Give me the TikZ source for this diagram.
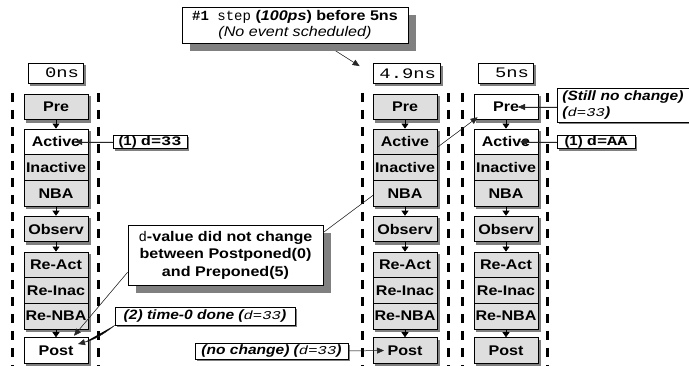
\documentclass[tikz,border=0pt]{standalone}
\usepackage{fontspec}
\setmainfont{Liberation Sans}
\newfontfamily\stagesans[FakeStretch=1.15]{Liberation Sans}
\newfontfamily\widemono[FakeStretch=1.3]{Liberation Mono}
\newfontfamily\plainmono{Liberation Mono}
\usetikzlibrary{arrows.meta,backgrounds}

\definecolor{stagefill}{RGB}{222,222,222}
\definecolor{shadowgrey}{RGB}{128,128,128}

\newcommand\tmStage{\stagesans\bfseries\fontsize{14}{16}\selectfont}
\newcommand\tmHdr{\widemono\fontsize{14.5}{16}\selectfont}
\newcommand\tmTag{\stagesans\bfseries\fontsize{13}{15}\selectfont}
\newcommand\tmNote{\stagesans\bfseries\itshape\fontsize{13.5}{16}\selectfont}
\newcommand\tmCallout{\stagesans\bfseries\fontsize{14}{17.5}\selectfont}
\newcommand\tmVal[1]{{\widemono\mdseries\fontsize{12}{14}\selectfont #1}}

% one column of scheduler regions: suffix, x, Pre style, Active style, Post style
\newcommand\stagecolumn[5]{%
  \node[#3] (pre#1) at (#2,107) {Pre};
  \node[#4] (act#1) at (#2,141.85) {Active};
  \node[greystage] (ina#1) at (#2,167.55) {Inactive};
  \node[greystage] (nba#1) at (#2,193.25) {NBA};
  \node[greystage] (obs#1) at (#2,229) {Observ};
  \node[greystage] (rac#1) at (#2,264.85) {Re-Act};
  \node[greystage] (rin#1) at (#2,290.55) {Re-Inac};
  \node[greystage] (rnb#1) at (#2,316.25) {Re-NBA};
  \node[#5] (pst#1) at (#2,350.5) {Post};
  \draw[flow] (pre#1) -- (act#1);
  \draw[flow] (nba#1) -- (obs#1);
  \draw[flow] (obs#1) -- (rac#1);
  \draw[flow] (rnb#1) -- (pst#1);
}

% grey shadow offset down-right behind a named node
\newcommand\castshadow[2]{%
  \fill[shadowgrey] ([xshift=#2,yshift=-#2]#1.south west)
    rectangle ([xshift=#2,yshift=-#2]#1.north east);
}

\begin{document}
\begin{tikzpicture}[x=1pt,y=-1pt,
  stage/.style={draw=black, line width=0.8pt, minimum width=64pt,
    minimum height=25.7pt, inner sep=0pt, font=\tmStage},
  greystage/.style={stage, fill=stagefill},
  openstage/.style={stage, fill=white},
  flow/.style={-{Triangle[length=5pt,width=7pt]}, line width=0.6pt},
  timebox/.style={draw, line width=0.8pt, fill=white, minimum height=20pt,
    inner xsep=4pt, inner ysep=0pt, align=right, font=\tmHdr},
  tag/.style={draw, line width=0.8pt, fill=white, inner sep=0pt},
  callout/.style={draw, line width=0.8pt, fill=white, inner sep=0pt,
    align=center, font=\tmCallout},
  pointer/.style={-{Triangle[length=7pt,width=6pt]}, line width=0.5pt, draw=black!85, fill=black},
  slot/.style={line width=3pt, dash pattern=on 9pt off 8pt}
]
\useasboundingbox (0,0) rectangle (689,366);
\begin{pgfonlayer}{background}
  \fill[white] (0,0) rectangle (689,366);
\end{pgfonlayer}

% time-slot borders
\foreach \x in {12,98,362,448,462,547}
  \draw[slot] (\x,93) -- (\x,372);

% time labels
\node[timebox, text width=47pt] (hdr1) at (55.5,73) {0ns};
\node[timebox, text width=59pt] (hdr2) at (406.5,73.5) {4.9ns};
\node[timebox, text width=47pt] (hdr3) at (505.5,73) {5ns};

% regions at 0ns and at 5ns
\stagecolumn{1}{56}{greystage}{openstage}{openstage}
\stagecolumn{3}{506}{openstage}{openstage}{greystage}

% explanation box and its link to the Preponed region at 5ns
\node[callout, minimum width=195pt, minimum height=60pt] (why) at (225.5,255)
  {{\plainmono\mdseries d}-value did not change\\between Postponed(0)\\and Preponed(5)};
\coordinate (pre3low) at ([xshift=4pt,yshift=3pt]pre3.south west);
\draw[pointer] (why.13) -- (pre3low);

% regions at 4.9ns
\stagecolumn{2}{405}{greystage}{greystage}{greystage}

% notes
\node[tag, minimum width=74pt, minimum height=13.5pt, font=\tmTag] (tag1) at (150,141.85)
  {(1) {\widemono\fontsize{13}{15}\selectfont d=33}};
\node[tag, minimum width=78pt, minimum height=13.5pt, font=\tmTag] (tagAA) at (596,141.85)
  {(1) {\widemono\fontsize{13}{15}\selectfont d=AA}};
\node[tag, anchor=west, minimum height=34pt, text width=128pt, inner xsep=5pt,
  align=left, font=\tmNote] (still) at (557,105)
  {(Still no change)\\(\tmVal{d=33})};
\node[tag, minimum width=180pt, minimum height=18pt, font=\tmNote] (done) at (205,316)
  {(2) time-0 done (\tmVal{d=33})};
\node[tag, minimum width=153pt, minimum height=16pt, font=\tmNote] (same) at (271.5,351)
  {(no change) (\tmVal{d=33})};

% arrow targets inside the regions
\coordinate (act1tip) at ([xshift=19pt]act1.center);
\coordinate (act3tip) at ([xshift=14pt]act3.center);
\coordinate (pre3tip) at ([xshift=12pt]pre3.center);
\coordinate (pst1top) at ([xshift=18pt,yshift=1.5pt]pst1.north);
\coordinate (pst1tip) at ([xshift=22pt,yshift=6.5pt]pst1.center);
\coordinate (pst2tip) at ([xshift=-21pt]pst2.center);
\coordinate (hdr2tip) at ([xshift=-13pt,yshift=-3pt]hdr2.north west);

\draw[pointer] (tag1.west) -- (act1tip);
\draw[pointer] (tagAA.west) -- (act3tip);
\draw[pointer] (still.west |- pre3tip) -- (pre3tip);
\draw[pointer] (why.190) -- (pst1top);
\draw[pointer] (done.south west) to[bend left=12] (pst1tip);
\draw[pointer] (same.east) -- (pst2tip);

% the single delta step before 5ns
\node[callout, minimum width=226pt, minimum height=36pt, font=\stagesans\fontsize{14}{16}\selectfont] (stepnote) at (295,25)
  {{\plainmono\bfseries\#1}{\plainmono\ step} \textbf{(\textit{100ps}) before 5ns}\\
   \textit{(No event scheduled)}};

% shadows, behind every box
\begin{pgfonlayer}{background}
  \draw[pointer] (stepnote) -- (hdr2tip);
  \castshadow{stepnote}{8pt}
  \castshadow{why}{8pt}
  \foreach \c in {1,2,3} {
    \castshadow{hdr\c}{2.5pt}
    \foreach \s in {pre,act,ina,nba,obs,rac,rin,rnb,pst} {
      \castshadow{\s\c}{2.5pt}
    }
  }
  \foreach \t in {tag1,tagAA,still,done,same} {
    \castshadow{\t}{2pt}
  }
\end{pgfonlayer}
\end{tikzpicture}
\end{document}
